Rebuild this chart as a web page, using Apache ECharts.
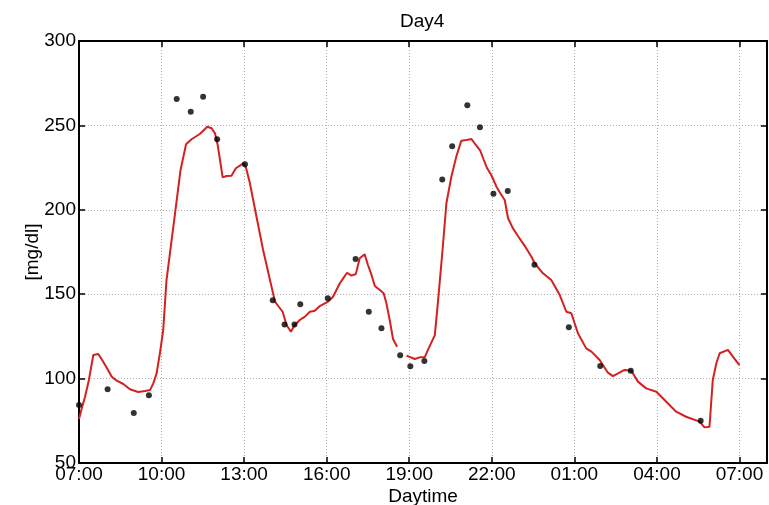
<!DOCTYPE html>
<html>
<head>
<meta charset="utf-8">
<script src="https://cdn.jsdelivr.net/npm/echarts@6/dist/echarts.min.js"></script>
<style>html,body{margin:0;padding:0;background:#fff}#c{width:769px;height:505px}</style>
</head>
<body>
<div id="c"></div>
<script>
// hours since 07:00
const xTickLabels = ['07:00','10:00','13:00','16:00','19:00','22:00','01:00','04:00','07:00'];
const lineHours = [0,0.1,0.22,0.36,0.52,0.70,0.88,1.06,1.19,1.37,1.61,1.85,2.15,2.40,2.58,2.70,2.82,2.94,3.06,3.18,3.49,3.69,3.89,4.09,4.39,4.66,4.82,4.94,5.04,5.22,5.36,5.54,5.70,5.97,6.06,6.21,6.45,6.69,6.94,7.12,7.24,7.40,7.54,7.70,7.82,8.02,8.21,8.39,8.57,8.75,9.05,9.23,9.48,9.60,9.74,9.90,10.06,10.20,10.38,10.50,10.63,10.75,10.93,11.07,11.17,11.29,11.41,11.56,11.73,11.90,12.20,12.38,12.56,12.68,12.93,13.05,13.21,13.35,13.53,13.71,13.89,14.08,14.26,14.42,14.58,14.71,14.83,14.98,15.17,15.31,15.47,15.59,15.77,15.95,16.20,16.44,16.56,16.86,17.16,17.47,17.71,17.89,18.13,18.43,18.62,18.92,19.22,19.40,19.64,19.82,20.07,20.31,20.61,20.98,21.34,21.70,22.06,22.55,22.73,22.91,23.03,23.16,23.28,23.58,23.76,24.0];
const lineValues = [76,82.4,89.3,99.2,114,114.6,110,105,101.1,98.8,96.8,93.7,92.1,92.7,93.2,97.2,103.1,115,128.8,158.4,197.9,223.6,238.8,241.8,244.9,249.2,248.3,245.3,238.4,219.2,220,220.2,224.6,227.5,225.5,215.7,195.9,176.2,158.4,145.6,143,139.6,131.8,127.8,131.3,134.7,136.7,139.6,140.2,143,145.6,148.5,156.5,159.4,162.7,161,162,171.3,173.6,167.3,161.4,154.9,152.5,150.5,144.6,134.7,123.5,118.9,null,113.6,111.6,112.6,112.6,117,125.8,146.6,176.2,203.9,219.6,231.5,240.9,241.4,241.9,238.4,235,229.5,224.6,220.6,213.7,209.8,205.8,195,189,184.5,178.5,172.2,168.3,162.4,158.4,149.5,139.6,138.7,126.9,117.9,116,111,103.5,101.5,103.5,105.1,104.7,98.2,94.2,92.2,86.3,80.4,77.4,74.5,71.1,71.5,99.2,109.1,115,117,113,108];
const dotHours = [0,1.04,1.99,2.54,3.55,4.06,4.51,5.02,6.03,7.04,7.47,7.83,8.04,9.04,10.05,10.53,10.99,11.67,12.04,12.55,13.2,13.56,14.11,14.57,15.06,15.58,16.55,17.8,18.94,20.05,22.59];
const dotValues = [84.4,93.7,79.6,90.1,265.6,258.1,267,241.8,227,146.4,132,132,144,147.6,170.9,139.6,129.8,113.8,107.3,110.4,218,237.6,261.9,248.9,209.5,211.1,167.5,130.4,107.5,104.7,75.1];

const FONT = 'Liberation Sans, Arial, sans-serif';
const chart = echarts.init(document.getElementById('c'), null, {renderer: 'canvas'});
const axisLine = {show: true, onZero: false, lineStyle: {color: '#000', width: 2}};
const axisTick = {show: true, inside: true, length: 6, lineStyle: {color: '#000', width: 1.5}};
const split = {show: true, lineStyle: {color: '#b0b0b0', type: [1, 2], width: 1}};
chart.setOption({
  animation: false,
  backgroundColor: '#fff',
  title: {text: 'Day4', left: 400, top: 12, padding: 0,
    textStyle: {fontFamily: FONT, fontSize: 19, fontWeight: 'normal', color: '#000'}},
  grid: {left: 79, right: 2, top: 41, bottom: 42, containLabel: false, outerBoundsMode: 'none'},
  xAxis: [{
    type: 'value', min: 0, max: 25, interval: 3,
    name: 'Daytime', nameLocation: 'middle', nameGap: 24, nameMoveOverlap: false,
    nameTextStyle: {fontFamily: FONT, fontSize: 19, color: '#000'},
    axisLine, axisTick, splitLine: split,
    axisLabel: {fontFamily: FONT, fontSize: 19, color: '#000', margin: 2,
      formatter: v => (v % 3 === 0 && v / 3 < xTickLabels.length) ? xTickLabels[v / 3] : ''}
  }, {
    type: 'value', min: 0, max: 25, interval: 3, position: 'top',
    axisLine, axisTick, splitLine: {show: false}, axisLabel: {show: false}
  }],
  yAxis: [{
    type: 'value', min: 50, max: 300, interval: 50,
    name: '[mg/dl]', nameLocation: 'middle', nameGap: 37, nameMoveOverlap: false,
    nameTextStyle: {fontFamily: FONT, fontSize: 19, color: '#000'},
    axisLine, axisTick, splitLine: split,
    axisLabel: {fontFamily: FONT, fontSize: 19, color: '#000', margin: 3}
  }, {
    type: 'value', min: 50, max: 300, interval: 50, position: 'right',
    axisLine, axisTick, splitLine: {show: false}, axisLabel: {show: false}
  }],
  series: [{
    type: 'line', xAxisIndex: 0, yAxisIndex: 0,
    data: lineHours.map((h, i) => [h, lineValues[i] === null ? '-' : lineValues[i]]),
    showSymbol: false, connectNulls: false,
    lineStyle: {color: '#d42020', width: 2}, itemStyle: {color: '#d42020'}, z: 2
  }, {
    type: 'scatter', xAxisIndex: 0, yAxisIndex: 0,
    data: dotHours.map((h, i) => [h, dotValues[i]]),
    symbol: 'circle', symbolSize: 6, itemStyle: {color: '#000'}, z: 3, clip: false
  }]
});
</script>
</body>
</html>
